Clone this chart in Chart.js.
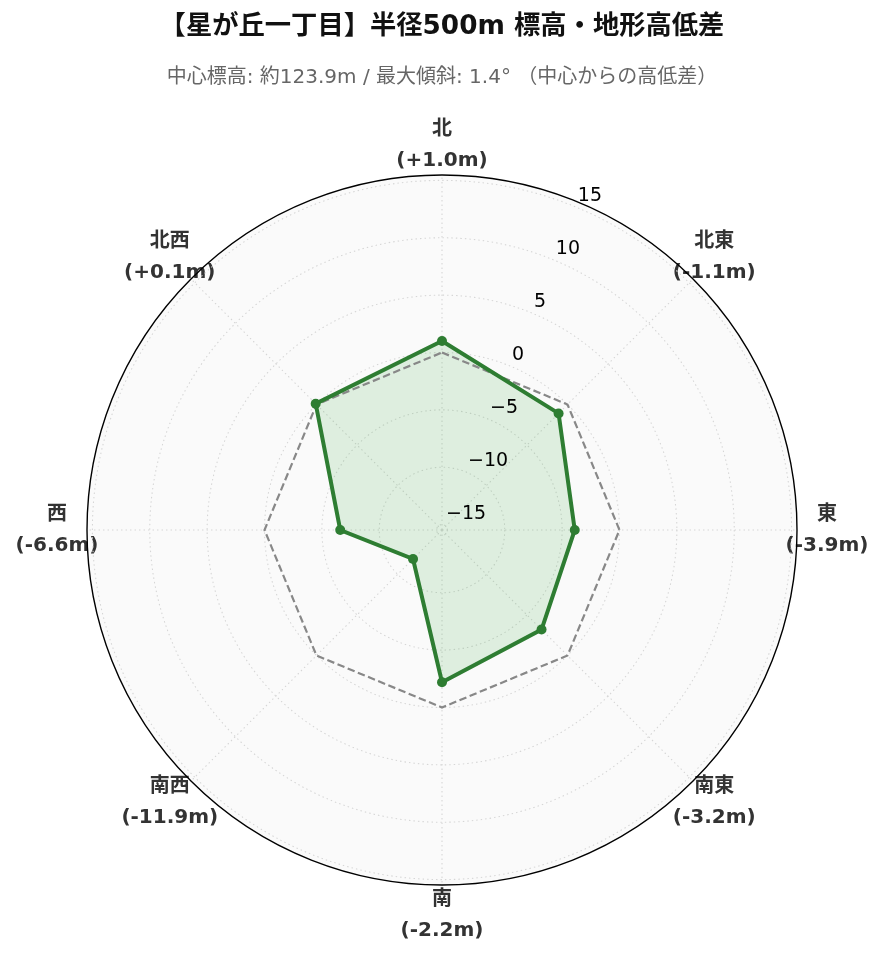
<!DOCTYPE html>
<html>
<head>
<meta charset="utf-8">
<script src="https://cdn.jsdelivr.net/npm/chart.js@4.4.1/dist/chart.umd.min.js"></script>
<style>
html,body{margin:0;padding:0;background:#fff;}
#wrap{position:relative;width:885px;height:962px;}
</style>
</head>
<body>
<div id="wrap"><canvas id="c"></canvas></div>
<script>
// ---- data ----
const directions = ['北', '北東', '東', '南東', '南', '南西', '西', '北西'];
const elevationDiff = [1.0, -1.1, -3.9, -3.2, -2.2, -11.9, -6.6, 0.1];
const referenceLine = [0, 0, 0, 0, 0, 0, 0, 0];
const radialTickValues = [-15, -10, -5, 0, 5, 10, 15];
const radialTickLabels = ['\u221215', '\u221210', '\u22125', '0', '5', '10', '15'];
const radialMin = -15.47;
const radialMax = 15.47;
const titleText = '【星が丘一丁目】半径500m 標高・地形高低差';
const subtitleText = '中心標高: 約123.9m / 最大傾斜: 1.4° （中心からの高低差）';

const FONT = '"DejaVu Sans", "Noto Sans CJK JP", sans-serif';

function valueLabel(v) {
  return '(' + (v >= 0 ? '+' : '') + v.toFixed(1) + 'm)';
}

const polarTextPlugin = {
  id: 'polarText',
  beforeDraw(chart) {
    const scale = chart.scales.r;
    const ctx = chart.ctx;
    ctx.save();
    ctx.fillStyle = '#333333';
    ctx.font = 'bold 20px ' + FONT;
    ctx.textAlign = 'center';
    ctx.textBaseline = 'middle';
    const dist = scale.drawingArea + 30;
    directions.forEach((d, i) => {
      const p = scale.getPointPosition(i, dist);
      ctx.fillText(d, p.x, p.y - 15.5);
      ctx.fillText(valueLabel(elevationDiff[i]), p.x, p.y + 15.5);
    });
    ctx.restore();
  },
  afterDatasetsDraw(chart) {
    const scale = chart.scales.r;
    const ctx = chart.ctx;
    ctx.save();
    ctx.fillStyle = '#000000';
    ctx.font = '19px ' + FONT;
    ctx.textAlign = 'left';
    ctx.textBaseline = 'bottom';
    radialTickValues.forEach((v, i) => {
      const p = scale.getPointPosition(0.5, scale.getDistanceFromCenterForValue(v));
      ctx.fillText(radialTickLabels[i], p.x + 2, p.y - 1);
    });
    ctx.restore();
  }
};

const isOuter = ctx => ctx.tick && Math.abs(ctx.tick.value - radialMax) < 1e-6;

new Chart(document.getElementById('c'), {
  type: 'radar',
  data: {
    labels: directions,
    datasets: [
      {
        data: elevationDiff,
        borderColor: '#2e7d32',
        backgroundColor: 'rgba(76,175,80,0.16)',
        fill: 'start',
        borderWidth: 4,
        pointRadius: 5,
        pointBackgroundColor: '#2e7d32',
        pointBorderColor: '#2e7d32',
        pointBorderWidth: 0,
        tension: 0
      },
      {
        data: referenceLine,
        borderColor: '#888888',
        borderDash: [7.5, 3.5],
        borderWidth: 2.2,
        pointRadius: 0,
        fill: false,
        tension: 0
      }
    ]
  },
  plugins: [polarTextPlugin],
  options: {
    responsive: true,
    maintainAspectRatio: false,
    animation: false,
    devicePixelRatio: 1,
    layout: { padding: { left: 87, right: 88, top: 0, bottom: 77 } },
    plugins: {
      legend: { display: false },
      tooltip: { enabled: false },
      filler: { drawTime: 'beforeDatasetsDraw' },
      title: {
        display: true,
        text: titleText,
        color: '#111111',
        font: { family: FONT, size: 26.3, weight: 'bold' },
        padding: { top: 11.22, bottom: 0 }
      },
      subtitle: {
        display: true,
        text: subtitleText,
        color: '#666666',
        font: { family: FONT, size: 20 },
        padding: { top: 22.72, bottom: 85.5 }
      }
    },
    scales: {
      r: {
        min: radialMin,
        max: radialMax,
        startAngle: 0,
        backgroundColor: 'rgba(0,0,0,0.02)',
        afterBuildTicks: axis => {
          axis.ticks = radialTickValues.concat([radialMax]).map(v => ({ value: v }));
        },
        ticks: { display: false },
        pointLabels: { display: false },
        grid: {
          circular: true,
          color: c => isOuter(c) ? '#000000' : '#d6d6d6',
          lineWidth: c => isOuter(c) ? 1.4 : 1.1
        },
        border: {
          dash: c => isOuter(c) ? [] : [1.5, 3]
        },
        angleLines: {
          display: true,
          color: '#d6d6d6',
          lineWidth: 1.1,
          borderDash: [1.5, 3]
        }
      }
    }
  }
});
</script>
</body>
</html>
